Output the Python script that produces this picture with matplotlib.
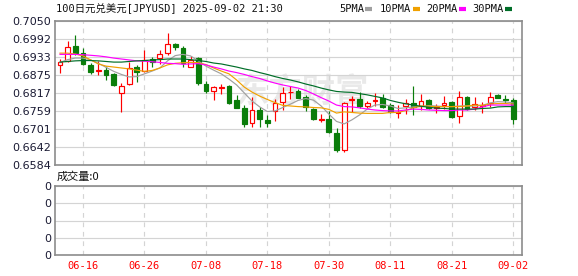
"""JPY/USD daily candles with moving averages and empty volume panel."""
import matplotlib
matplotlib.use("Agg")
import matplotlib.pyplot as plt
from matplotlib.patches import Rectangle
from matplotlib.lines import Line2D

# --- data (60 trading days, 06-11 .. 09-02) ---
opens = [0.6908, 0.6922, 0.6969, 0.6946, 0.6907, 0.6888, 0.6892, 0.6879, 0.6818, 0.6845,
         0.6901, 0.6888, 0.6926, 0.6931, 0.6946, 0.6976, 0.6962, 0.6902, 0.6929, 0.6845,
         0.6825, 0.6834, 0.6840, 0.6794, 0.6768, 0.6721, 0.6762, 0.6730, 0.6760, 0.6787,
         0.6819, 0.6824, 0.6805, 0.6764, 0.6731, 0.6732, 0.6687, 0.6633, 0.6793, 0.6797,
         0.6776, 0.6790, 0.6800, 0.6778, 0.6753, 0.6776, 0.6784, 0.6776, 0.6794, 0.6768,
         0.6778, 0.6787, 0.6744, 0.6803, 0.6771, 0.6774, 0.6786, 0.6811, 0.6798, 0.6793]
highs = [0.6926, 0.6985, 0.7005, 0.6962, 0.6913, 0.6922, 0.6904, 0.6881, 0.6848, 0.6918,
         0.6908, 0.6956, 0.6935, 0.6956, 0.7011, 0.6980, 0.6969, 0.6937, 0.6933, 0.6856,
         0.6840, 0.6846, 0.6843, 0.6811, 0.6778, 0.6805, 0.6771, 0.6746, 0.6797, 0.6836,
         0.6841, 0.6830, 0.6811, 0.6768, 0.6748, 0.6759, 0.6703, 0.6787, 0.6807, 0.6819,
         0.6791, 0.6816, 0.6813, 0.6784, 0.6778, 0.6798, 0.6840, 0.6814, 0.6798, 0.6780,
         0.6807, 0.6791, 0.6824, 0.6807, 0.6803, 0.6787, 0.6821, 0.6815, 0.6811, 0.6800]
lows = [0.6881, 0.6918, 0.6940, 0.6908, 0.6879, 0.6875, 0.6859, 0.6840, 0.6757, 0.6842,
        0.6854, 0.6886, 0.6902, 0.6910, 0.6940, 0.6956, 0.6902, 0.6901, 0.6842, 0.6816,
        0.6794, 0.6815, 0.6781, 0.6768, 0.6708, 0.6706, 0.6708, 0.6706, 0.6727, 0.6762,
        0.6798, 0.6800, 0.6760, 0.6730, 0.6722, 0.6687, 0.6627, 0.6625, 0.6757, 0.6768,
        0.6769, 0.6776, 0.6768, 0.6751, 0.6735, 0.6749, 0.6746, 0.6762, 0.6764, 0.6753,
        0.6764, 0.6737, 0.6721, 0.6762, 0.6762, 0.6751, 0.6773, 0.6800, 0.6784, 0.6716]
closes = [0.6918, 0.6967, 0.6946, 0.6910, 0.6886, 0.6891, 0.6875, 0.6843, 0.6841, 0.6899,
          0.6886, 0.6924, 0.6917, 0.6943, 0.6976, 0.6965, 0.6913, 0.6923, 0.6848, 0.6824,
          0.6836, 0.6837, 0.6784, 0.6769, 0.6717, 0.6762, 0.6732, 0.6719, 0.6786, 0.6818,
          0.6820, 0.6802, 0.6773, 0.6732, 0.6733, 0.6690, 0.6633, 0.6784, 0.6796, 0.6776,
          0.6786, 0.6793, 0.6773, 0.6757, 0.6756, 0.6784, 0.6771, 0.6792, 0.6768, 0.6771,
          0.6786, 0.6740, 0.6803, 0.6764, 0.6781, 0.6778, 0.6803, 0.6802, 0.6795, 0.6732]

ma5 = [0.6916, 0.6925, 0.6930, 0.6930, 0.6924, 0.6913, 0.6900, 0.6887, 0.6877, 0.6869,
       0.6870, 0.6879, 0.6888, 0.6898, 0.6921, 0.6938, 0.6942, 0.6937, 0.6921, 0.6904,
       0.6891, 0.6879, 0.6862, 0.6843, 0.6817, 0.6791, 0.6772, 0.6757, 0.6759, 0.6770,
       0.6781, 0.6793, 0.6799, 0.6794, 0.6775, 0.6749, 0.6725, 0.6717, 0.6730, 0.6746,
       0.6765, 0.6778, 0.6780, 0.6775, 0.6767, 0.6769, 0.6772, 0.6773, 0.6776, 0.6775,
       0.6773, 0.6773, 0.6775, 0.6775, 0.6775, 0.6777, 0.6785, 0.6789, 0.6788, 0.6785]
ma10 = [0.6946, 0.6946, 0.6943, 0.6937, 0.6924, 0.6911, 0.6904, 0.6901, 0.6898, 0.6895,
        0.6891, 0.6887, 0.6890, 0.6898, 0.6908, 0.6913, 0.6915, 0.6916, 0.6915, 0.6909,
        0.6898, 0.6888, 0.6879, 0.6859, 0.6836, 0.6820, 0.6807, 0.6796, 0.6786, 0.6777,
        0.6775, 0.6773, 0.6772, 0.6770, 0.6769, 0.6764, 0.6752, 0.6756, 0.6754, 0.6752,
        0.6751, 0.6751, 0.6751, 0.6754, 0.6754, 0.6760, 0.6769, 0.6775, 0.6774, 0.6773,
        0.6773, 0.6773, 0.6773, 0.6775, 0.6778, 0.6777, 0.6781, 0.6783, 0.6783, 0.6781]
ma20 = [0.6942, 0.6942, 0.6942, 0.6941, 0.6939, 0.6937, 0.6934, 0.6930, 0.6927, 0.6924,
        0.6921, 0.6920, 0.6918, 0.6916, 0.6913, 0.6912, 0.6910, 0.6911, 0.6912, 0.6908,
        0.6901, 0.6895, 0.6888, 0.6883, 0.6877, 0.6870, 0.6864, 0.6856, 0.6849, 0.6843,
        0.6838, 0.6833, 0.6825, 0.6814, 0.6802, 0.6791, 0.6778, 0.6773, 0.6772, 0.6769,
        0.6765, 0.6762, 0.6760, 0.6759, 0.6759, 0.6762, 0.6765, 0.6764, 0.6762, 0.6761,
        0.6760, 0.6760, 0.6762, 0.6762, 0.6765, 0.6772, 0.6778, 0.6778, 0.6778, 0.6778]
ma30 = [0.6917, 0.6919, 0.6921, 0.6922, 0.6922, 0.6921, 0.6919, 0.6917, 0.6917, 0.6919,
        0.6921, 0.6922, 0.6924, 0.6925, 0.6927, 0.6927, 0.6927, 0.6925, 0.6922, 0.6919,
        0.6914, 0.6911, 0.6906, 0.6901, 0.6895, 0.6890, 0.6883, 0.6877, 0.6870, 0.6864,
        0.6859, 0.6853, 0.6846, 0.6840, 0.6833, 0.6827, 0.6822, 0.6820, 0.6819, 0.6815,
        0.6811, 0.6806, 0.6801, 0.6793, 0.6787, 0.6782, 0.6778, 0.6774, 0.6771, 0.6768,
        0.6767, 0.6765, 0.6765, 0.6765, 0.6765, 0.6767, 0.6768, 0.6772, 0.6773, 0.6773]

price_ticks = [0.7050, 0.6992, 0.6933, 0.6875, 0.6817, 0.6759, 0.6701, 0.6642, 0.6584]
date_tick_idx = [3, 11, 19, 27, 35, 43, 51, 59]
date_tick_labels = ["06-16", "06-26", "07-08", "07-18", "07-30", "08-11", "08-21", "09-02"]
ma_labels = ["5PMA", "10PMA", "20PMA", "30PMA"]
ma_colors = ["#a0a0a0", "#f0a000", "#ff00ff", "#006e28"]

UP = "#ff0000"
DOWN = "#0a7d0a"
GRID = "#d4d4d4"
FRAME = "#8c8c8c"
CJK = ["DejaVu Sans Mono", "Noto Sans CJK SC"]

W, H = 578, 276
fig = plt.figure(figsize=(W / 100, H / 100), dpi=100)


def fx(px):
    return px / W


def fy(py):
    return 1 - py / H


ax = fig.add_axes([fx(55), fy(165), fx(522) - fx(55), fy(21) - fy(165)])
axv = fig.add_axes([fx(55), fy(255), fx(522) - fx(55), fy(186) - fy(255)])

xlim = (-0.65, 60.15)
n = len(closes)
bw = 0.62

# watermark
ax.text(31.5, 0.6817, "东方财富", fontsize=24, fontweight="bold", color="#e9e9e9",
        family="Noto Sans CJK SC", ha="center", va="center", zorder=0)

for i in range(n):
    o, h, l, c = opens[i], highs[i], lows[i], closes[i]
    up = c >= o
    col = UP if up else DOWN
    ax.plot([i, i], [l, h], color=col, lw=0.85, zorder=2, solid_capstyle="butt")
    lo, hi = min(o, c), max(o, c)
    body_h = max(hi - lo, 0.00004)
    ax.add_patch(Rectangle((i - bw / 2, lo), bw, body_h,
                           facecolor="white" if up else DOWN, edgecolor=col,
                           lw=0.85, zorder=3))

xs = list(range(n))
for vals, col in zip([ma5, ma10, ma20, ma30], ma_colors):
    ax.plot(xs, vals, color=col, lw=0.85, zorder=4)

ax.set_xlim(*xlim)
ax.set_ylim(price_ticks[-1], price_ticks[0])
ax.set_yticks(price_ticks)
ax.set_yticklabels([f"{v:.4f}" for v in price_ticks], fontsize=8, color="#1a1a33")
ax.set_xticks(date_tick_idx)
ax.set_xticklabels([])
ax.tick_params(length=0, pad=3)
ax.grid(axis="y", color=GRID, lw=0.85, ls="-", zorder=0)
ax.grid(axis="x", color=GRID, lw=0.85, ls=(0, (4, 4)), zorder=0)
ax.set_axisbelow(True)
for s in ax.spines.values():
    s.set_color(FRAME)
    s.set_linewidth(1.2)

# volume panel (no volume data: all zeros)
vol_ticks = [0, 1, 2, 3, 4]
axv.set_xlim(*xlim)
axv.set_ylim(0, 4)
axv.set_yticks(vol_ticks)
axv.set_yticklabels(["0"] * len(vol_ticks), fontsize=8, color="#1a1a33")
axv.set_xticks(date_tick_idx)
axv.set_xticklabels(date_tick_labels, fontsize=7.5, color="red", family="DejaVu Sans Mono")
axv.tick_params(length=0, pad=3)
axv.tick_params(axis="x", pad=4)
axv.grid(axis="y", color=GRID, lw=0.85, ls="-")
axv.grid(axis="x", color=GRID, lw=0.85, ls=(0, (4, 4)))
axv.set_axisbelow(True)
for s in axv.spines.values():
    s.set_color(FRAME)
    s.set_linewidth(1.2)

fig.text(fx(57), fy(177), "成交量:0", fontsize=8, family=["Noto Sans CJK SC"],
         ha="left", va="center", color="#111111")

# title and legend
fig.text(fx(56), fy(9), "100日元兑美元[JPYUSD] 2025-09-02 21:30", fontsize=7.5,
         family=CJK, ha="left", va="center", color="#111111")
label_x = [339, 380, 426, 472]
mark_x = [365, 413, 459, 505]
for lab, col, lx, mx in zip(ma_labels, ma_colors, label_x, mark_x):
    fig.text(fx(lx), fy(9), lab, fontsize=7.5, family="DejaVu Sans Mono",
             ha="left", va="center", color="#111111")
    fig.add_artist(Line2D([fx(mx), fx(mx + 7)], [fy(9), fy(9)], color=col, lw=3,
                          solid_capstyle="butt", transform=fig.transFigure))

fig.savefig("out.png", dpi=100)
